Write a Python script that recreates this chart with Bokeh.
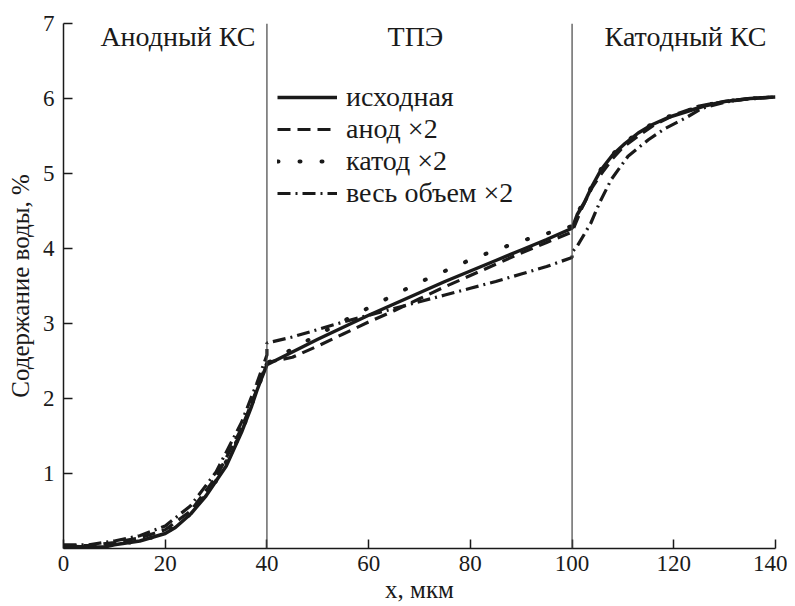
from bokeh.plotting import figure
from bokeh.models import Range1d, Span, Label, Legend, LegendItem, FixedTicker
from bokeh.embed import file_html
from bokeh.resources import INLINE

# ---- data ----
x_base = [0, 5, 8, 10, 15, 20, 22, 25, 28, 30, 32, 35, 37, 38, 39, 40,
          45, 50, 55, 60, 65, 70, 75, 80, 85, 90, 95, 100,
          101, 102.4, 104, 105.7, 108, 110.4, 113, 115.7, 119, 122.3, 126, 130, 135, 140]
y_base = [0.03, 0.02, 0.02, 0.05, 0.1, 0.2, 0.28, 0.46, 0.7, 0.9, 1.1, 1.55, 1.9, 2.1, 2.28, 2.45,
          2.62, 2.79, 2.95, 3.11, 3.26, 3.41, 3.56, 3.7, 3.84, 3.98, 4.12, 4.27,
          4.45, 4.61, 4.84, 5.05, 5.25, 5.4, 5.54, 5.65, 5.75, 5.82, 5.9, 5.96, 6.0, 6.02]

x_anode = [0, 5, 10, 15, 20, 25, 30, 35, 38, 40,
           45, 50, 55, 60, 65, 70, 75, 80, 85, 90, 95, 100,
           102, 104, 106, 108, 110, 113, 116, 120, 125, 130, 135, 140]
y_anode = [0.04, 0.04, 0.08, 0.14, 0.25, 0.5, 0.95, 1.6, 2.12, 2.48,
           2.55, 2.7, 2.86, 3.02, 3.17, 3.33, 3.49, 3.64, 3.79, 3.94, 4.08, 4.22,
           4.55, 4.82, 5.02, 5.2, 5.35, 5.5, 5.64, 5.78, 5.9, 5.96, 6.0, 6.02]

x_cathode = [0, 5, 10, 15, 20, 25, 30, 35, 38, 40,
             45, 50, 55, 60, 65, 70, 75, 80, 85, 90, 95, 100,
             101, 102.4, 104, 105.7, 108, 110.4, 113, 115.7, 119, 122.3, 126, 130, 135, 140]
y_cathode = [0.03, 0.02, 0.05, 0.1, 0.2, 0.46, 0.9, 1.55, 2.1, 2.47,
             2.66, 2.85, 3.03, 3.21, 3.38, 3.55, 3.7, 3.85, 3.98, 4.1, 4.2, 4.3,
             4.47, 4.63, 4.85, 5.06, 5.26, 5.41, 5.55, 5.66, 5.76, 5.83, 5.91, 5.96, 6.0, 6.02]

x_bulk = [0, 5, 10, 15, 20, 25, 30, 35, 38, 40, 40,
          45, 50, 55, 60, 65, 70, 75, 80, 85, 90, 95, 100, 100,
          101, 103.7, 105.4, 107.7, 111, 115, 118.3, 122.3, 125.6, 130, 135, 140]
y_bulk = [0.05, 0.05, 0.1, 0.17, 0.3, 0.57, 1.02, 1.68, 2.2, 2.58, 2.74,
          2.82, 2.92, 3.02, 3.11, 3.2, 3.29, 3.38, 3.47, 3.56, 3.66, 3.76, 3.88, 3.95,
          4.03, 4.34, 4.61, 4.92, 5.23, 5.45, 5.6, 5.74, 5.87, 5.95, 6.0, 6.02]

series_names = ["исходная", "анод ×2", "катод ×2", "весь объем ×2"]
x_ticks = [0, 20, 40, 60, 80, 100, 120, 140]
y_ticks = [1, 2, 3, 4, 5, 6, 7]
zone_bounds = [40, 100]
zone_names = ["Анодный КС", "ТПЭ", "Катодный КС"]
zone_centers = [22.5, 69.2, 122.3]

INK = "#1a1a1a"
SERIF = "Liberation Serif"

p = figure(width=787, height=605, output_backend="svg", toolbar_location=None,
           x_range=Range1d(0, 140), y_range=Range1d(0, 7),
           min_border_left=63, min_border_right=12, min_border_top=23, min_border_bottom=57)
p.outline_line_color = None
p.xgrid.visible = False
p.ygrid.visible = False
p.background_fill_color = "white"
p.border_fill_color = "white"

for ax in (p.xaxis[0], p.yaxis[0]):
    ax.axis_line_color = INK
    ax.axis_line_width = 1.5
    ax.major_tick_line_color = INK
    ax.major_tick_line_width = 1.5
    ax.major_tick_in = 9
    ax.major_tick_out = 0
    ax.minor_tick_line_color = None
    ax.major_label_text_font = SERIF
    ax.major_label_text_font_size = "23px"
    ax.major_label_text_color = INK
    ax.axis_label_text_font = SERIF
    ax.axis_label_text_font_size = "25px"
    ax.axis_label_text_font_style = "normal"
    ax.axis_label_text_color = INK
p.xaxis.ticker = FixedTicker(ticks=x_ticks)
p.yaxis.ticker = FixedTicker(ticks=y_ticks)
p.xaxis.major_label_standoff = 7
p.yaxis.major_label_standoff = 9
p.xaxis.axis_label = "x, мкм"
p.yaxis.axis_label = "Содержание воды, %"
p.xaxis.axis_label_standoff = 2
p.yaxis.axis_label_standoff = 6

for b in zone_bounds:
    p.add_layout(Span(location=b, dimension="height", line_color="#444444", line_width=1.2))

r1 = p.line(x_base, y_base, line_color=INK, line_width=3.5)
r2 = p.line(x_anode, y_anode, line_color=INK, line_width=3.2, line_dash="13 7")
r3 = p.line(x_cathode, y_cathode, line_color=INK, line_width=4, line_dash="1 21", line_cap="round")
r4 = p.line(x_bulk, y_bulk, line_color=INK, line_width=3.2, line_dash="13 5 2 5")

legend = Legend(items=[LegendItem(label=n, renderers=[r]) for n, r in zip(series_names, [r1, r2, r3, r4])],
                location=(214, 339), orientation="vertical",
                border_line_color=None, background_fill_alpha=0,
                padding=0, margin=0, spacing=-3,
                glyph_width=60, glyph_height=28, label_height=28, label_standoff=9,
                label_text_font=SERIF, label_text_font_size="28px", label_text_color=INK)
p.add_layout(legend)

for name, cx in zip(zone_names, zone_centers):
    p.add_layout(Label(x=cx, y=6.83, text=name, text_align="center", text_baseline="middle",
                       text_font=SERIF, text_font_size="28px", text_color=INK))

open("out.html", "w").write(file_html(p, INLINE))
